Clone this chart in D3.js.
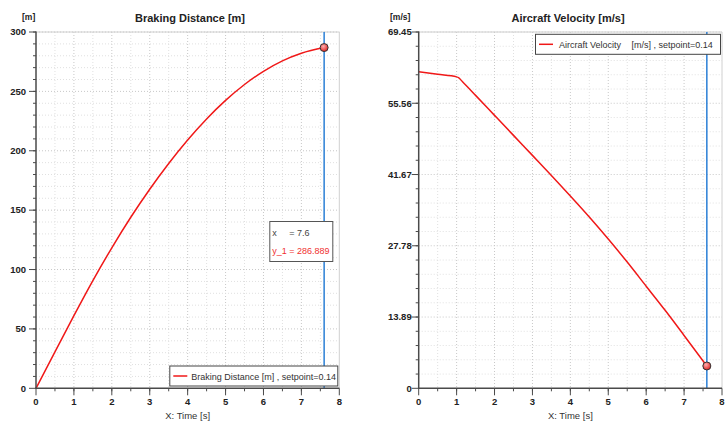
<!DOCTYPE html>
<html>
<head>
<meta charset="utf-8">
<script src="https://cdn.jsdelivr.net/npm/d3@7"></script>
<style>
  body { margin: 0; background: #fff; }
  svg { display: block; font-family: "Liberation Sans", Arial, sans-serif; }
</style>
</head>
<body>
<svg id="chart" width="728" height="421"></svg>
<script>
// braking distance
var distTime = [0, 0.5, 1, 1.5, 2, 2.5, 3, 3.5, 4, 4.5, 5, 5.5, 6, 6.5, 7, 7.6];
var distValues = [0, 30.7, 61.2, 90.7, 118.3, 144, 167.6, 189.3, 209.1, 226.8, 242.4, 255.8, 266.9, 275.7, 282.1, 286.889];

// aircraft velocity
var velTime = [0, 0.5, 1, 1.05, 1.15, 1.5, 2, 2.5, 3, 3.5, 4, 4.5, 5, 5.5, 6, 6.5, 7, 7.6];
var velValues = [61.7, 61.2, 60.7, 60.55, 59.8, 57.1, 53.2, 49.3, 45.4, 41.5, 37.5, 33.4, 29.1, 24.6, 19.9, 15.2, 10.3, 4.35];

var timeTicks = [0, 1, 2, 3, 4, 5, 6, 7, 8];
var distTicks = [0, 50, 100, 150, 200, 250, 300];
var velTicks = [0, 13.89, 27.78, 41.67, 55.56, 69.45];
var velTickLabels = ["0", "13.89", "27.78", "41.67", "55.56", "69.45"];

var cursorTime = 7.6;

var svg = d3.select("#chart");

var defs = svg.append("defs");
var grad = defs.append("radialGradient").attr("id", "dot")
	.attr("cx", "40%").attr("cy", "35%").attr("r", "65%");
grad.append("stop").attr("offset", "0%").attr("stop-color", "#ffb0b0");
grad.append("stop").attr("offset", "100%").attr("stop-color", "#e02424");

function drawPanel(p) {
	var x = d3.scaleLinear().domain([0, 8]).range([p.left, p.right]);
	var y = d3.scaleLinear().domain([0, p.yMax]).range([388.3, 32]);
	var g = svg.append("g");

	// minor grid
	var xMinor = d3.range(0.5, 8, 0.5);
	g.selectAll(".vgrid").data(xMinor).enter().append("line")
		.attr("x1", function(d) { return x(d); }).attr("x2", function(d) { return x(d); })
		.attr("y1", y(p.yMax)).attr("y2", y(0))
		.attr("stroke", function(d) { return d % 1 === 0 ? "#c8c8c8" : "#e0e0e0"; })
		.attr("stroke-dasharray", "1,2");
	var yMinor = d3.range(1, p.ticks.length * 5 - 4).map(function(i) { return i * p.yMax / ((p.ticks.length - 1) * 5); });
	g.selectAll(".hgrid").data(yMinor).enter().append("line")
		.attr("x1", x(0)).attr("x2", x(8))
		.attr("y1", function(d) { return y(d); }).attr("y2", function(d) { return y(d); })
		.attr("stroke", function(d, i) { return (i + 1) % 5 === 0 ? "#c8c8c8" : "#e0e0e0"; })
		.attr("stroke-dasharray", "1,2");

	// frame top/right
	g.append("path")
		.attr("d", "M" + x(0) + "," + y(p.yMax) + "H" + x(8) + "V" + y(0))
		.attr("fill", "none").attr("stroke", "#d0d0d0");

	// cursor
	g.append("line")
		.attr("x1", x(cursorTime)).attr("x2", x(cursorTime))
		.attr("y1", y(p.yMax)).attr("y2", y(0))
		.attr("stroke", "#2a7fd6").attr("stroke-width", 1.5);

	// curve
	var line = d3.line()
		.x(function(d, i) { return x(p.xs[i]); })
		.y(function(d) { return y(d); })
		.curve(d3.curveMonotoneX);
	g.append("path").datum(p.ys)
		.attr("d", line)
		.attr("fill", "none").attr("stroke", "#f01818").attr("stroke-width", 1.5);

	// axes
	var yAxis = g.append("g");
	yAxis.append("line").attr("x1", x(0)).attr("x2", x(0)).attr("y1", y(p.yMax) - 0.5).attr("y2", y(0))
		.attr("stroke", "#4a4a4a").attr("stroke-width", 1.5);
	yAxis.selectAll(".minor").data(yMinor).enter().append("line")
		.attr("x1", x(0) - 3).attr("x2", x(0))
		.attr("y1", function(d) { return y(d); }).attr("y2", function(d) { return y(d); })
		.attr("stroke", "#4a4a4a");
	yAxis.selectAll(".major").data(p.ticks).enter().append("line")
		.attr("x1", x(0) - 7).attr("x2", x(0))
		.attr("y1", function(d) { return y(d); }).attr("y2", function(d) { return y(d); })
		.attr("stroke", "#4a4a4a");
	yAxis.selectAll("text").data(p.ticks).enter().append("text")
		.attr("x", x(0) - p.labelGap).attr("y", function(d) { return y(d); })
		.attr("dy", "0.35em").attr("text-anchor", "end")
		.attr("font-size", 9.5).attr("font-weight", "bold").attr("fill", "#222")
		.text(function(d, i) { return p.tickLabels[i]; });

	var xAxis = g.append("g");
	xAxis.append("line").attr("x1", x(0) - 0.75).attr("x2", x(8)).attr("y1", y(0)).attr("y2", y(0))
		.attr("stroke", "#4a4a4a").attr("stroke-width", 1.5);
	xAxis.selectAll(".minor").data(xMinor).enter().append("line")
		.attr("x1", function(d) { return x(d); }).attr("x2", function(d) { return x(d); })
		.attr("y1", y(0)).attr("y2", y(0) + 3)
		.attr("stroke", "#4a4a4a");
	xAxis.selectAll(".major").data(timeTicks).enter().append("line")
		.attr("x1", function(d) { return x(d); }).attr("x2", function(d) { return x(d); })
		.attr("y1", y(0)).attr("y2", y(0) + 7)
		.attr("stroke", "#4a4a4a");
	xAxis.selectAll("text").data(timeTicks).enter().append("text")
		.attr("x", function(d) { return x(d); }).attr("y", 404.5)
		.attr("text-anchor", "middle")
		.attr("font-size", 9.5).attr("font-weight", "bold").attr("fill", "#222")
		.text(function(d) { return d; });
	g.append("text")
		.attr("x", (x(0) + x(8)) / 2).attr("y", 419)
		.attr("text-anchor", "middle").attr("font-size", 9.5).attr("fill", "#333")
		.text("X: Time [s]");

	// unit + title
	g.append("text").attr("x", p.unitX).attr("y", 20)
		.attr("font-size", 8.5).attr("font-weight", "bold").attr("fill", "#222")
		.text(p.unit);
	g.append("text").attr("x", p.titleX).attr("y", 22)
		.attr("text-anchor", "middle").attr("font-size", 11).attr("font-weight", "bold").attr("fill", "#222")
		.text(p.title);

	// end marker
	var last = p.ys.length - 1;
	g.append("circle")
		.attr("cx", x(p.xs[last])).attr("cy", y(p.ys[last])).attr("r", 4)
		.attr("fill", "url(#dot)").attr("stroke", "#333").attr("stroke-width", 1);

	// legend
	var lg = g.append("g").attr("transform", "translate(" + (x(8) - 2 - p.legendW) + "," + p.legendY + ")");
	lg.append("rect").attr("x", 0.5).attr("y", 0.5).attr("width", p.legendW).attr("height", 20)
		.attr("fill", "#fff").attr("stroke", "#444").attr("stroke-width", 1);
	lg.append("line").attr("x1", 4).attr("x2", 18).attr("y1", 10.5).attr("y2", 10.5)
		.attr("stroke", "#f01818").attr("stroke-width", 1.5);
	p.legendText.forEach(function(t) {
		lg.append("text").attr("x", t[0]).attr("y", 14)
			.attr("font-size", 9).attr("fill", "#333").text(t[1]);
	});

	return { x: x, y: y, g: g };
}

var left = drawPanel({
	left: 36, right: 339.3, yMax: 300,
	ticks: distTicks, tickLabels: distTicks.map(String), labelGap: 10,
	xs: distTime, ys: distValues,
	unit: "[m]", unitX: 22, title: "Braking Distance [m]", titleX: 190,
	legendW: 168, legendY: 365.5,
	legendText: [[22, "Braking Distance [m] , setpoint=0.14"]]
});

drawPanel({
	left: 418.7, right: 722, yMax: 69.45,
	ticks: velTicks, tickLabels: velTickLabels, labelGap: 7,
	xs: velTime, ys: velValues,
	unit: "[m/s]", unitX: 390, title: "Aircraft Velocity [m/s]", titleX: 568,
	legendW: 185, legendY: 33.8,
	legendText: [[24, "Aircraft Velocity"], [96.5, "[m/s] , setpoint=0.14"]]
});

// readout box on the left chart
var tip = left.g.append("g").attr("transform", "translate(269.3,221)");
tip.append("rect").attr("x", 0.5).attr("y", 0.5).attr("width", 63).attr("height", 40)
	.attr("fill", "#fff").attr("stroke", "#555");
tip.append("text").attr("x", 3).attr("y", 15).attr("font-size", 9).attr("fill", "#444")
	.text("x");
tip.append("text").attr("x", 20).attr("y", 15).attr("font-size", 9).attr("fill", "#444")
	.text("= " + cursorTime);
tip.append("text").attr("x", 3).attr("y", 32.5).attr("font-size", 9).attr("fill", "#f03030")
	.text("y_1 = " + distValues[distValues.length - 1]);
</script>
</body>
</html>
